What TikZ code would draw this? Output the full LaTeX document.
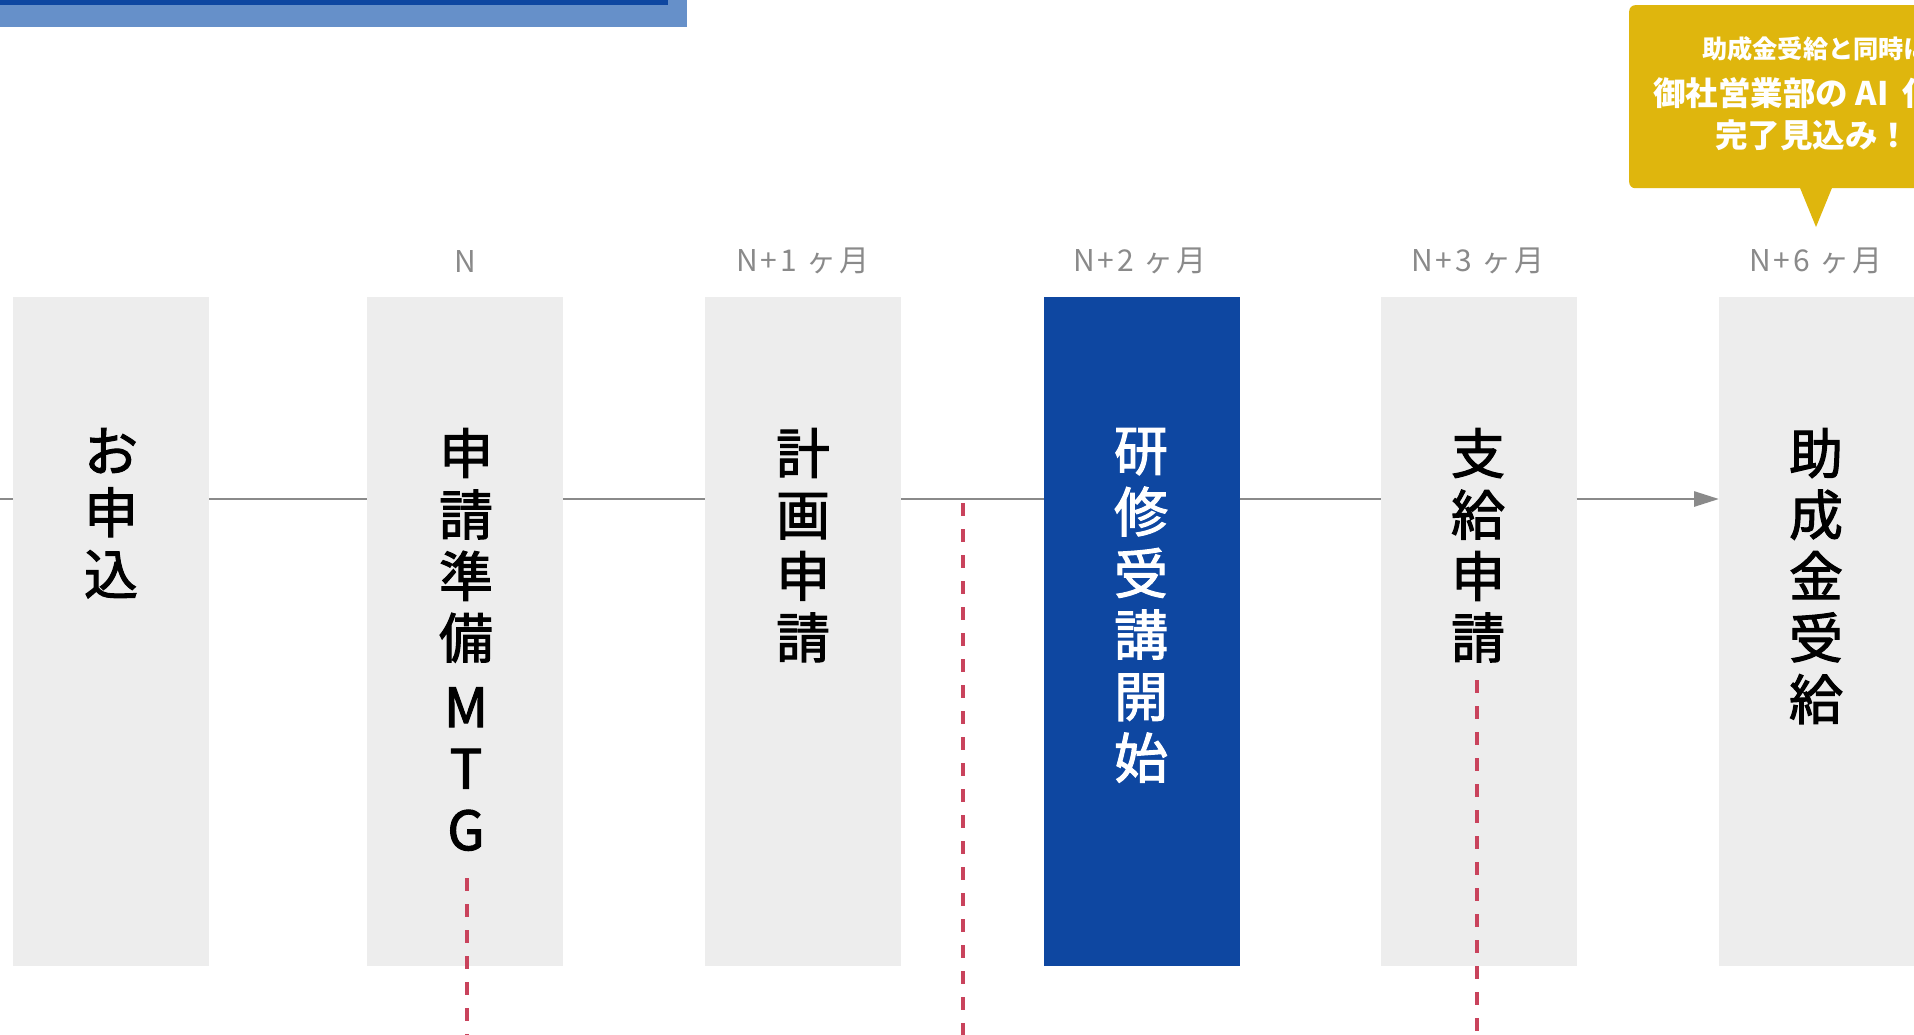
\documentclass[tikz,border=0pt]{standalone}
\usepackage{fontspec}
\newfontfamily\jp{Noto Sans CJK JP}
\newfontfamily\jpm{Noto Sans CJK JP}[FakeBold=2.0]
\usetikzlibrary{arrows.meta}
\definecolor{colgray}{HTML}{EDEDED}
\definecolor{navy}{HTML}{0E47A1}
\definecolor{lightblue}{HTML}{6690C9}
\definecolor{linegray}{HTML}{8A8A8A}
\definecolor{dashred}{HTML}{C9435C}
\definecolor{gold}{HTML}{DFB60D}
\definecolor{labelgray}{HTML}{8A8A8A}
\begin{document}
\begin{tikzpicture}[x=1pt,y=-1pt,
  colbox/.style={rectangle, fill=colgray, minimum width=196pt, minimum height=669pt, inner sep=0pt, outer sep=0pt},
  hotbox/.style={colbox, fill=navy},
  coltext/.style={anchor=north, inner sep=0pt, align=center, font=\jpm\fontsize{54}{61.5}\selectfont, text=black},
  monthlabel/.style={font=\jp\fontsize{30}{30}\selectfont\addfontfeatures{LetterSpace=10}, text=labelgray, inner sep=0pt},
  flow/.style={draw=linegray, line width=2.8pt},
  milestone/.style={draw=dashred, line width=4pt, dash pattern=on 13pt off 13pt},
  bubbletext/.style={anchor=west, inner sep=0pt, text=white},
  bubble/.style={fill=gold, rounded corners=6pt, inner sep=0pt, minimum width=370pt, minimum height=183pt, anchor=north west}
]
\useasboundingbox (0,0) rectangle (1914,1034);
\clip (0,0) rectangle (1914,1034);
\fill[white] (0,0) rectangle (1914,1034);

% header bar
\fill[lightblue] (0,0) rectangle (687,27);
\fill[navy] (0,0) rectangle (668,5);

% columns
\node[colbox] (c1) at (111,631.5) {};
\node[colbox] (c2) at (465,631.5) {};
\node[colbox] (c3) at (803,631.5) {};
\node[hotbox] (c4) at (1141.5,631.5) {};
\node[colbox] (c5) at (1478.5,631.5) {};
\node[colbox] (c6) at (1817,631.5) {};

% flow line
\coordinate (start) at (0,499);
\draw[flow] (start) -- (start -| c1.west);
\draw[flow] (start -| c1.east) -- (start -| c2.west);
\draw[flow] (start -| c2.east) -- (start -| c3.west);
\draw[flow] (start -| c3.east) -- (start -| c4.west);
\draw[flow] (start -| c4.east) -- (start -| c5.west);
\draw[flow, -{Triangle[length=25pt,width=15pt]}] (start -| c5.east) -- (start -| c6.west);

% column texts
\node[coltext] (t1) at (111,428) {お\\申\\込};
\node[coltext] (t2) at (466,428) {申\\請\\準\\備\\[7.5pt]M\\T\\G};
\node[coltext] (t3) at (803,428) {計\\画\\申\\請};
\node[coltext, text=white] (t4) at (1141,428) {研\\修\\受\\講\\開\\始};
\node[coltext] (t5) at (1478,428) {支\\給\\申\\請};
\node[coltext] (t6) at (1816,428) {助\\成\\金\\受\\給};

% month labels
\node[monthlabel] (m2) at (465,261) {N};
\node[monthlabel] (m3) at (803,261) {N+1 ヶ月};
\node[monthlabel] (m4) at (1140,261) {N+2 ヶ月};
\node[monthlabel] (m5) at (1478,261) {N+3 ヶ月};
\node[monthlabel] (m6) at (1816,261) {N+6 ヶ月};

% milestone dashed lines
\coordinate (d1a) at (467,878); \coordinate (d1b) at (467,1040);
\coordinate (d2a) at (963,503); \coordinate (d2b) at (963,1040);
\coordinate (d3a) at (1477,680); \coordinate (d3b) at (1477,1040);
\draw[milestone] (d1a) -- (d1b);
\draw[milestone] (d2a) -- (d2b);
\draw[milestone] (d3a) -- (d3b);

% callout
\node[bubble] (callout) at (1629,5) {};
\coordinate (tip) at (1816,227);
\fill[gold] ([xshift=-17pt,yshift=3pt]tip |- callout.south) -- (tip) -- ([xshift=17pt,yshift=3pt]tip |- callout.south) -- cycle;
\node[bubbletext, font=\jp\bfseries\fontsize{25.2}{25.2}\selectfont] (b1) at (1702,49) {助成金受給と同時に};
\node[bubbletext, font=\jp\bfseries\fontsize{32.5}{32.5}\selectfont] (b2) at (1653,93) {御社営業部の AI\hspace{14pt}化が};
\node[bubbletext, font=\jp\bfseries\fontsize{32.5}{32.5}\selectfont] (b3) at (1715,135) {完了見込み！};
\end{tikzpicture}
\end{document}
